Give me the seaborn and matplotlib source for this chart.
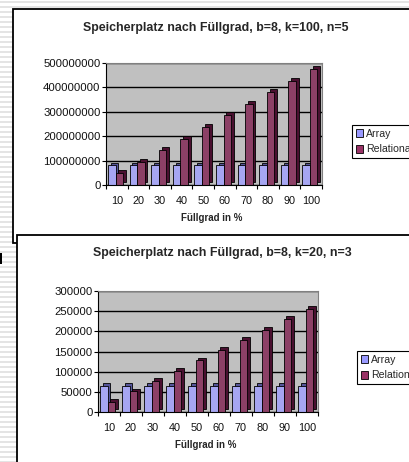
import numpy as np
import pandas as pd
import seaborn as sns
import matplotlib.pyplot as plt
import matplotlib.transforms as mtransforms
from matplotlib.patches import Rectangle, Patch
from matplotlib.ticker import FuncFormatter, MultipleLocator

# Werte
fuellgrad = [10, 20, 30, 40, 50, 60, 70, 80, 90, 100]
array_k100 = [80e6, 80e6, 80e6, 80e6, 80e6, 80e6, 80e6, 80e6, 80e6, 80e6]
relational_k100 = [48e6, 95e6, 143e6, 190e6, 238e6, 286e6, 333e6, 381e6, 428e6, 476e6]
array_k20 = [65000, 65000, 65000, 65000, 65000, 65000, 65000, 65000, 65000, 65000]
relational_k20 = [25500, 51000, 77000, 102000, 128000, 154000, 179000, 204000, 230000, 256000]
reihen = ['Array', 'Relational']
farben = {'Array': '#9999ff', 'Relational': '#993366'}
seiten = {'Array': '#55559a', 'Relational': '#4a1030'}

sns.set_style('white')
plt.rcParams['font.family'] = ['Liberation Sans', 'DejaVu Sans']

W, H = 410, 462
fig = plt.figure(figsize=(4.1, 4.62), dpi=100)


def fr(x0, y0, x1, y1):
    return [x0 / W, 1 - y1 / H, (x1 - x0) / W, (y1 - y0) / H]


# Hintergrund mit Streifen und Rahmen
bg = fig.add_axes([0, 0, 1, 1], zorder=0)
bg.set_xlim(0, W)
bg.set_ylim(H, 0)
bg.axis('off')
bg.hlines(np.arange(1.5, H, 5), 0, W, color='#e2e2e2', lw=1.3, zorder=1)
bg.add_patch(Rectangle((13.5, 8.5), 420, 234.5, fc='white', ec='black', lw=1.3, zorder=3))
bg.add_patch(Rectangle((17.5, 234.5), 420, 240, fc='white', ec='black', lw=1.3, zorder=4))
bg.add_patch(Rectangle((0, 253), 2.5, 11, fc='black', ec='none', zorder=2))


def chart(rect, arr, rel, ystep, ymax, title, title_xy, label_xy, legend_xy):
    df = pd.DataFrame({
        'Füllgrad': fuellgrad * 2,
        'Wert': arr + rel,
        'Reihe': ['Array'] * len(arr) + ['Relational'] * len(rel),
    })
    ax = fig.add_axes(fr(*rect), zorder=2)
    ax.set_facecolor('#c0c0c0')
    sns.barplot(data=df, x='Füllgrad', y='Wert', hue='Reihe', hue_order=reihen,
                palette=farben, width=0.7, edgecolor='black', linewidth=0.6,
                legend=False, ax=ax)
    # einfache Tiefenwirkung
    off = mtransforms.ScaledTranslation(0.028, 0.028, fig.dpi_scale_trans)
    for p, reihe in zip(list(ax.patches), ['Array'] * 10 + ['Relational'] * 10):
        p.set_x(p.get_x() - 0.06)
        s = Rectangle(p.get_xy(), p.get_width(), p.get_height(),
                      transform=ax.transData + off, fc=seiten[reihe],
                      ec='black', lw=0.6, zorder=p.get_zorder() - 0.1, clip_on=False)
        ax.add_patch(s)
    ax.set_ylim(0, ymax)
    ax.yaxis.set_major_locator(MultipleLocator(ystep))
    ax.yaxis.set_major_formatter(FuncFormatter(lambda v, p: f'{int(round(v))}'))
    ax.grid(axis='y', color='black', lw=1.0)
    ax.set_axisbelow(True)
    ax.set_xlabel('')
    ax.set_ylabel('')
    ax.set_xticks(range(10))
    ax.set_xticklabels([str(v) for v in fuellgrad])
    ax.set_xticks(np.arange(-0.5, 10, 1), minor=True)
    ax.tick_params(axis='x', which='major', length=0, pad=8, labelsize=7.8, colors='#111111')
    ax.tick_params(axis='x', which='minor', length=3, width=0.8, color='black', bottom=True)
    ax.tick_params(axis='y', length=3, width=0.8, color='black', left=True, labelsize=8.2,
                   pad=1, labelcolor='#111111')
    for k in ['top', 'right']:
        ax.spines[k].set_color('#808080')
        ax.spines[k].set_linewidth(0.8)
    for k in ['left', 'bottom']:
        ax.spines[k].set_color('black')
        ax.spines[k].set_linewidth(0.8)
    fig.text(title_xy[0] / W, 1 - title_xy[1] / H, title, ha='center', va='center',
             fontsize=8.9, fontweight='bold', zorder=5)
    fig.text(label_xy[0] / W, 1 - label_xy[1] / H, 'Füllgrad in %', ha='center', va='center',
             fontsize=7, fontweight='bold', zorder=5)
    handles = [Patch(fc=farben[r], ec='black', lw=0.6, label=r) for r in reihen]
    leg = ax.legend(handles=handles, loc='upper left',
                    bbox_to_anchor=(legend_xy[0] / W, 1 - legend_xy[1] / H),
                    bbox_transform=fig.transFigure, fontsize=7.6, frameon=True,
                    fancybox=False, edgecolor='black', framealpha=1,
                    handlelength=0.7, handleheight=0.7, handletextpad=0.3,
                    borderpad=0.35, labelspacing=0.55, borderaxespad=0)
    leg.get_frame().set_linewidth(0.8)
    return ax


chart((106, 63, 322, 185), array_k100, relational_k100, 100000000, 500000000,
      'Speicherplatz nach Füllgrad, b=8, k=100, n=5', (216, 28), (212, 218), (352, 125))
chart((98, 291, 318, 412), array_k20, relational_k20, 50000, 300000,
      'Speicherplatz nach Füllgrad, b=8, k=20, n=3', (222, 253), (206, 445), (357, 351))

fig.savefig('out.png', dpi=100)
